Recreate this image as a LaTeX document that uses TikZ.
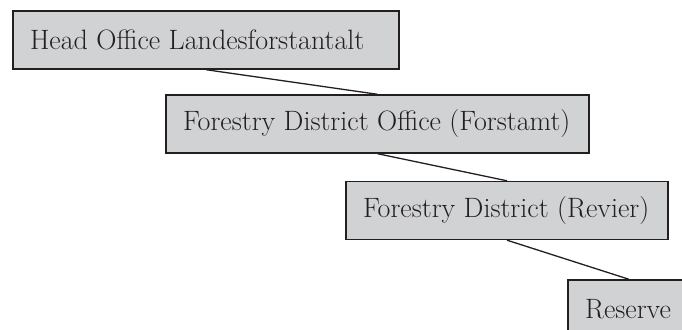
\documentclass[tikz,border=0pt]{standalone}
\usepackage{fontspec}
\setmainfont{Latin Modern Roman}
\usepackage{tikz}
\definecolor{boxfill}{RGB}{209,210,212}
\definecolor{boxline}{RGB}{35,31,32}
\begin{document}
\begin{tikzpicture}[x=1pt,y=1pt,
  orgbox/.style={draw=boxline, line width=1.4pt, fill=boxfill, rectangle,
    inner xsep=17pt, inner ysep=0pt, minimum height=58pt,
    font=\fontsize{28}{32}\selectfont, text=boxline},
  link/.style={draw=boxline, line width=1.3pt}]
\useasboundingbox (0,0) rectangle (682,329);
\clip (0,0) rectangle (682,329);
\node[orgbox] (ho) at (206,289) {\makebox[352pt][l]{Head Office Landesforstantalt}};
\node[orgbox] (fdo) at (377.5,205) {\makebox[389pt][l]{Forestry District Office (Forstamt)}};
\node[orgbox] (fd) at (507,118.5) {\makebox[288pt][l]{Forestry District (Revier)}};
\node[orgbox] (res) at (629,20) {\makebox[88pt][l]{Reserve}};
\draw[link] (ho.south) -- (fdo.north);
\draw[link] (fdo.south) -- (fd.north);
\draw[link] (fd.south) -- (res.north);
\end{tikzpicture}
\end{document}
